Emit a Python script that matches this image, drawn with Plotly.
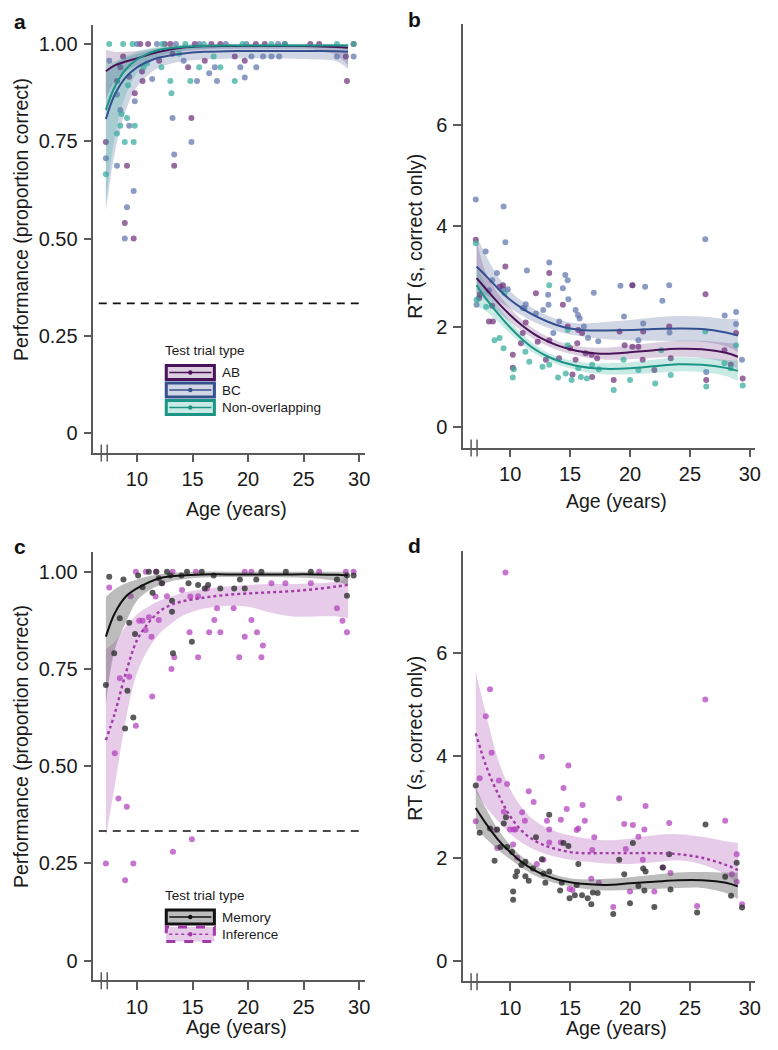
import plotly.graph_objects as go

W, H = 778, 1050

# ---------------- Panel a : performance by trial type ----------------
a_ab_age = [7.2, 8.2, 8.5, 8.75, 8.9, 9.1, 9.3, 9.7, 9.8, 10.3, 10.45, 10.5, 11.0, 12.0, 12.5, 13.0, 13.2, 13.35,
            14.6, 14.9, 15.2, 16.1, 16.7, 17.5, 18.8, 19.7, 20.7, 21.5, 23.3, 25.6, 26.4, 28.8, 28.9, 29.5]
a_ab_val = [0.748, 0.905, 0.94, 0.968, 0.54, 0.687, 0.916, 0.50, 0.873, 1.0, 0.929, 0.905, 1.0, 0.957, 1.0, 1.0, 0.975, 0.687,
            0.94, 0.81, 1.0, 0.957, 1.0, 1.0, 0.968, 0.957, 1.0, 1.0, 1.0, 1.0, 1.0, 0.968, 0.905, 1.0]
a_bc_age = [7.2, 7.5, 8.2, 8.2, 8.5, 8.9, 9.1, 9.3, 9.7, 9.8, 10.0, 11.37, 11.8, 13.2, 13.35, 13.5, 14.2, 14.9, 15.4,
            15.6, 16.5, 17.0, 17.2, 18.0, 19.3, 19.7, 19.85, 20.3, 20.74, 21.35, 22.1, 22.7, 22.8, 28.0, 29.5]
a_bc_val = [0.706, 0.957, 0.87, 0.687, 0.83, 0.50, 0.58, 0.79, 0.622, 0.853, 1.0, 0.91, 1.0, 0.81, 0.716, 1.0, 0.957, 0.748, 0.905,
            1.0, 0.925, 0.94, 0.905, 1.0, 0.94, 0.914, 1.0, 0.968, 0.94, 0.968, 0.968, 1.0, 0.968, 0.968, 0.968]
a_no_age = [7.2, 7.5, 8.2, 8.5, 8.6, 8.75, 8.9, 9.1, 9.2, 9.6, 9.7, 9.8, 10.6, 10.9, 12.2, 12.3, 13.0, 13.1, 13.8, 14.35,
            14.8, 15.6, 16.0, 16.9, 17.5, 18.8, 19.5, 22.1, 23.3, 28.0, 29.5]
a_no_val = [0.665, 1.0, 0.77, 0.79, 0.82, 1.0, 0.748, 0.81, 0.894, 1.0, 0.748, 0.79, 0.94, 0.95, 0.94, 1.0, 0.905, 0.873, 0.975, 1.0,
            0.905, 0.94, 1.0, 0.968, 0.94, 0.905, 1.0, 1.0, 1.0, 1.0, 1.0]
a_fit_age = [7.2, 8, 9, 10, 11, 12, 14, 16, 18, 20, 22, 24, 26, 28, 29]
a_ab_fit = [0.93, 0.945, 0.955, 0.963, 0.972, 0.98, 0.99, 0.994, 0.995, 0.995, 0.995, 0.995, 0.994, 0.992, 0.99]
a_ab_lo = [0.86, 0.905, 0.93, 0.945, 0.958, 0.968, 0.98, 0.985, 0.987, 0.987, 0.987, 0.987, 0.985, 0.97, 0.945]
a_ab_hi = [0.985, 0.98, 0.98, 0.982, 0.986, 0.99, 0.997, 1.0, 1.0, 1.0, 1.0, 1.0, 1.0, 1.0, 1.0]
a_bc_fit = [0.807, 0.87, 0.915, 0.94, 0.955, 0.965, 0.975, 0.98, 0.981, 0.982, 0.982, 0.982, 0.982, 0.981, 0.98]
a_bc_lo = [0.57, 0.72, 0.83, 0.89, 0.92, 0.94, 0.955, 0.96, 0.962, 0.963, 0.963, 0.962, 0.96, 0.955, 0.935]
a_bc_hi = [0.93, 0.95, 0.965, 0.975, 0.982, 0.987, 0.99, 0.995, 0.997, 0.998, 0.998, 0.998, 0.997, 0.997, 0.997]
a_no_fit = [0.83, 0.89, 0.935, 0.96, 0.975, 0.985, 0.992, 0.995, 0.996, 0.996, 0.996, 0.996, 0.996, 0.996, 0.996]
a_no_lo = [0.59, 0.76, 0.87, 0.925, 0.952, 0.968, 0.982, 0.987, 0.989, 0.99, 0.99, 0.99, 0.99, 0.988, 0.985]
a_no_hi = [0.95, 0.955, 0.97, 0.98, 0.988, 0.993, 0.998, 1.0, 1.0, 1.0, 1.0, 1.0, 1.0, 1.0, 1.0]

# ---------------- Panel b : RT by trial type ----------------
b_bc_age = [7.13, 7.2, 7.96, 8.23, 8.5, 8.9, 9.45, 9.6, 9.4, 9.8, 11.05, 11.3, 11.4, 11.2, 12.15, 12.76, 13.17, 13.2, 13.26,
            13.6, 14.1, 14.4, 14.6, 14.8, 14.86, 15.46, 15.66, 15.8, 16.15, 16.5, 16.98, 17.35, 19.2, 19.5, 20.2, 20.7,
            21.1, 21.26, 22.7, 23.27, 23.3, 26.28, 26.36, 27.9, 28.85, 28.85, 29.34]
b_bc_val = [4.52, 2.43, 3.49, 2.72, 2.92, 3.06, 4.38, 3.67, 2.74, 2.74, 2.37, 2.44, 3.11, 2.36, 2.26, 2.33, 2.63, 2.43, 3.27,
            1.87, 2.10, 2.76, 3.02, 2.92, 2.54, 2.33, 2.23, 2.16, 2.0, 1.77, 2.67, 1.71, 2.81, 2.2, 2.82, 1.73,
            2.06, 2.79, 2.51, 2.82, 1.88, 3.73, 1.10, 2.22, 2.29, 2.05, 1.34]
b_ab_age = [7.13, 7.4, 7.46, 8.23, 8.5, 8.56, 9.12, 9.4, 9.6, 10.22, 10.22, 10.9, 11.05, 11.3, 12.15, 12.3, 12.98, 13.26,
            13.26, 14.08, 14.4, 14.8, 15.0, 15.2, 15.46, 15.6, 15.68, 16.0, 16.3, 16.8, 16.84, 17.26, 18.64, 19.13, 19.55,
            20.2, 20.2, 20.7, 21.06, 21.1, 22.03, 23.27, 23.4, 26.3, 26.36, 27.88, 28.4, 28.85, 29.4]
b_ab_val = [3.72, 2.56, 2.63, 2.10, 2.41, 2.10, 2.79, 2.82, 3.19, 1.44, 1.18, 1.67, 1.87, 2.08, 2.66, 1.70, 1.34, 3.06,
            1.73, 1.37, 2.43, 2.0, 1.57, 1.05, 1.34, 1.67, 1.93, 1.87, 1.47, 1.44, 1.0, 1.37, 0.94, 1.9, 1.63,
            2.82, 1.6, 1.6, 1.34, 1.9, 1.14, 2.0, 1.37, 2.64, 0.94, 1.53, 1.24, 1.87, 0.97]
b_no_age = [7.13, 7.2, 8.0, 8.7, 9.12, 9.45, 9.53, 10.22, 10.3, 11.27, 11.6, 12.7, 13.26, 13.26, 14.0, 14.64, 14.8, 14.8,
            15.13, 15.68, 15.9, 16.4, 16.84, 17.4, 18.64, 19.46, 20.0, 20.7, 22.1, 22.6, 23.4, 26.28, 26.36, 27.88,
            28.4, 28.85, 29.4]
b_no_val = [3.65, 2.53, 2.39, 1.73, 1.77, 1.57, 2.66, 0.99, 1.15, 1.5, 1.30, 1.2, 2.82, 1.24, 0.99, 1.07, 1.63, 1.93,
            0.94, 1.17, 1.0, 0.97, 1.24, 1.15, 0.74, 1.34, 0.94, 1.14, 0.87, 1.53, 1.04, 1.9, 0.81, 1.27,
            1.17, 1.63, 0.83]
b_fit_age = [7.2, 8, 9, 10, 11, 12, 13, 14, 15, 16, 17, 18, 20, 22, 24, 26, 28, 29]
b_bc_fit = [3.19, 3.0, 2.75, 2.53, 2.36, 2.22, 2.11, 2.02, 1.96, 1.93, 1.92, 1.92, 1.93, 1.95, 1.96, 1.95, 1.88, 1.82]
b_bc_lo = [2.65, 2.62, 2.50, 2.36, 2.22, 2.09, 1.99, 1.90, 1.84, 1.80, 1.77, 1.75, 1.73, 1.72, 1.71, 1.70, 1.61, 1.49]
b_bc_hi = [3.80, 3.40, 2.99, 2.70, 2.50, 2.35, 2.23, 2.14, 2.08, 2.06, 2.07, 2.09, 2.13, 2.18, 2.21, 2.20, 2.15, 2.15]
b_ab_fit = [2.96, 2.74, 2.47, 2.23, 2.02, 1.85, 1.72, 1.62, 1.55, 1.50, 1.47, 1.46, 1.49, 1.53, 1.56, 1.55, 1.48, 1.40]
b_ab_lo = [2.66, 2.50, 2.29, 2.09, 1.91, 1.75, 1.63, 1.53, 1.46, 1.40, 1.36, 1.34, 1.35, 1.38, 1.40, 1.38, 1.28, 1.15]
b_ab_hi = [3.70, 3.05, 2.65, 2.37, 2.13, 1.95, 1.81, 1.71, 1.64, 1.60, 1.58, 1.58, 1.63, 1.68, 1.72, 1.72, 1.68, 1.65]
b_no_fit = [2.82, 2.55, 2.25, 1.98, 1.75, 1.56, 1.42, 1.32, 1.25, 1.20, 1.17, 1.16, 1.17, 1.21, 1.25, 1.24, 1.18, 1.12]
b_no_lo = [2.40, 2.30, 2.09, 1.86, 1.65, 1.47, 1.34, 1.24, 1.17, 1.11, 1.07, 1.05, 1.05, 1.08, 1.11, 1.10, 1.02, 0.92]
b_no_hi = [3.20, 2.80, 2.41, 2.10, 1.85, 1.65, 1.50, 1.40, 1.33, 1.29, 1.27, 1.27, 1.29, 1.34, 1.39, 1.38, 1.34, 1.32]

# ---------------- Panel c : performance memory vs inference ----------------
c_mem_age = [7.2, 7.5, 7.95, 8.45, 8.78, 8.93, 9.14, 9.3, 9.67, 9.82, 10.1, 10.5, 11.07, 11.4, 11.75, 11.96, 12.26, 12.7,
             13.0, 13.15, 13.15, 13.24, 14.0, 14.5, 14.64, 14.94, 15.5, 15.83, 16.1, 16.4, 16.9, 17.5, 18.75, 19.26,
             19.7, 20.74, 21.2, 23.4, 25.65, 28.0, 28.9, 28.9, 29.5]
c_mem_val = [0.709, 0.987, 0.79, 0.88, 0.98, 0.597, 0.694, 0.869, 0.625, 0.84, 0.99, 0.96, 1.0, 0.946, 1.0, 0.983, 0.97, 1.0,
             0.99, 0.925, 0.897, 0.79, 0.99, 1.0, 0.97, 0.82, 0.966, 1.0, 0.957, 0.966, 0.99, 0.957, 0.957, 0.98,
             0.957, 0.98, 1.0, 1.0, 1.0, 0.98, 0.938, 0.99, 0.99]
c_inf_age = [7.2, 7.5, 8.0, 8.33, 8.45, 8.93, 9.08, 9.3, 9.43, 9.67, 9.9, 9.9, 10.2, 10.5, 10.77, 10.8, 11.07, 11.3, 11.37,
             11.67, 11.7, 11.96, 12.2, 12.7, 13.1, 13.2, 13.24, 13.36, 14.05, 14.73, 14.8, 14.94, 15.3, 15.5, 15.5,
             16.3, 16.5, 16.96, 17.2, 17.5, 18.7, 19.2, 19.7, 19.7, 20.3, 20.3, 20.8, 21.2, 21.34, 22.1, 23.36,
             25.65, 26.4, 28.0, 28.5, 28.8, 28.9, 29.5]
c_inf_val = [0.25, 0.959, 0.533, 0.417, 0.726, 0.207, 0.396, 0.73, 0.937, 0.25, 0.604, 1.0, 0.874, 0.874, 0.85, 1.0, 0.883, 0.833, 0.679,
             0.936, 1.0, 0.876, 0.97, 0.937, 0.75, 1.0, 0.28, 0.78, 0.953, 0.844, 0.936, 0.312, 1.0, 0.78, 0.937,
             0.957, 0.844, 0.876, 0.906, 0.844, 0.906, 0.78, 0.833, 1.0, 0.876, 1.0, 0.844, 0.78, 0.81, 0.97, 0.97,
             0.97, 1.0, 0.906, 0.874, 1.0, 0.844, 1.0]
c_fit_age = [7.2, 8, 9, 10, 11, 12, 13, 14, 16, 18, 20, 22, 24, 26, 28, 29]
c_mem_fit = [0.833, 0.893, 0.936, 0.957, 0.972, 0.983, 0.988, 0.99, 0.993, 0.993, 0.993, 0.993, 0.993, 0.993, 0.992, 0.99]
c_mem_lo = [0.66, 0.80, 0.87, 0.925, 0.95, 0.965, 0.975, 0.98, 0.985, 0.986, 0.986, 0.986, 0.985, 0.983, 0.975, 0.965]
c_mem_hi = [0.935, 0.955, 0.97, 0.98, 0.988, 0.993, 0.997, 0.998, 1.0, 1.0, 1.0, 1.0, 1.0, 1.0, 1.0, 1.0]
c_inf_fit = [0.567, 0.636, 0.74, 0.824, 0.867, 0.897, 0.914, 0.923, 0.933, 0.94, 0.944, 0.947, 0.95, 0.955, 0.962, 0.966]
c_inf_lo = [0.32, 0.45, 0.62, 0.74, 0.80, 0.84, 0.865, 0.885, 0.905, 0.912, 0.91, 0.895, 0.885, 0.885, 0.885, 0.88]
c_inf_hi = [0.80, 0.82, 0.86, 0.89, 0.91, 0.925, 0.935, 0.945, 0.955, 0.962, 0.966, 0.968, 0.968, 0.97, 0.975, 0.985]

# ---------------- Panel d : RT memory vs inference ----------------
d_mem_age = [7.13, 7.46, 8.32, 8.7, 8.92, 9.2, 9.47, 9.65, 9.75, 10.16, 10.25, 10.25, 10.45, 10.58, 10.94, 11.27, 11.27,
             11.55, 11.9, 12.15, 12.65, 12.78, 12.94, 13.26, 13.26, 14.17, 14.45, 14.86, 14.31, 14.96, 15.4, 15.55,
             15.69, 16.0, 16.47, 16.77, 16.9, 17.3, 18.6, 19.1, 19.52, 20.0, 20.24, 20.7, 21.1, 21.2, 21.3, 22.03,
             22.72, 23.27, 23.38, 25.6, 26.3, 27.94, 28.43, 28.9, 29.35]
d_mem_val = [3.42, 2.50, 2.58, 1.95, 2.56, 2.22, 2.68, 2.80, 2.22, 2.12, 1.35, 1.19, 1.65, 1.74, 1.87, 1.93, 1.65,
             1.56, 1.80, 2.41, 1.98, 1.70, 1.52, 2.85, 1.74, 1.37, 2.30, 2.24, 1.52, 1.22, 1.28, 1.48,
             1.89, 1.28, 1.22, 1.10, 1.33, 1.32, 0.91, 1.97, 1.69, 1.12, 2.30, 1.46, 1.80, 1.37, 1.74, 1.05,
             1.82, 2.08, 1.39, 0.94, 2.66, 1.64, 1.27, 1.91, 1.04]
d_inf_age = [7.13, 7.46, 7.97, 8.32, 8.45, 8.78, 8.92, 9.06, 9.47, 9.61, 9.75, 9.99, 10.25, 10.3, 10.45, 10.58, 11.0,
             11.23, 11.55, 11.96, 12.23, 12.65, 12.78, 13.07, 13.26, 13.26, 14.23, 14.23, 14.45, 14.72, 14.86, 14.96,
             15.2, 15.55, 15.69, 16.04, 16.23, 16.77, 16.85, 17.02, 17.4, 18.6, 19.1, 19.52, 19.65, 20.0, 20.24,
             20.7, 21.07, 21.2, 21.3, 22.03, 22.77, 23.27, 23.38, 25.6, 26.28, 27.94, 28.5, 28.9, 28.9, 29.35]
d_inf_val = [2.72, 3.56, 4.77, 5.30, 4.06, 2.55, 2.20, 3.52, 2.91, 7.58, 3.45, 2.56, 2.27, 2.56, 2.56, 2.01, 2.90,
             2.73, 3.31, 3.10, 1.89, 3.98, 1.97, 2.73, 2.56, 2.31, 2.75, 2.31, 3.37, 2.96, 3.81, 1.40,
             1.38, 2.55, 2.58, 3.04, 2.73, 1.60, 2.16, 2.41, 1.52, 1.05, 3.17, 2.67, 2.18, 1.35, 2.65,
             2.42, 1.97, 2.56, 3.02, 1.35, 1.82, 2.69, 1.71, 1.07, 5.10, 2.73, 1.69, 2.08, 1.54, 1.10]
d_fit_age = [7.13, 8, 9, 10, 11, 12, 13, 14, 15, 16, 18, 20, 22, 24, 26, 28, 29]
d_mem_fit = [2.98, 2.67, 2.36, 2.12, 1.92, 1.77, 1.66, 1.58, 1.53, 1.50, 1.48, 1.51, 1.54, 1.57, 1.57, 1.52, 1.45]
d_mem_lo = [2.58, 2.38, 2.16, 1.98, 1.81, 1.67, 1.57, 1.50, 1.45, 1.41, 1.37, 1.38, 1.40, 1.42, 1.42, 1.32, 1.20]
d_mem_hi = [3.38, 2.96, 2.56, 2.26, 2.03, 1.87, 1.75, 1.66, 1.61, 1.59, 1.60, 1.63, 1.68, 1.72, 1.73, 1.72, 1.72]
d_inf_fit = [4.44, 3.80, 3.25, 2.82, 2.53, 2.35, 2.24, 2.17, 2.12, 2.10, 2.10, 2.10, 2.10, 2.08, 2.01, 1.87, 1.77]
d_inf_lo = [3.30, 3.00, 2.72, 2.48, 2.30, 2.17, 2.08, 2.02, 1.97, 1.94, 1.90, 1.89, 1.92, 1.96, 1.88, 1.68, 1.48]
d_inf_hi = [5.64, 4.80, 3.92, 3.35, 2.98, 2.74, 2.60, 2.51, 2.45, 2.40, 2.35, 2.38, 2.45, 2.47, 2.42, 2.33, 2.30]

# ---------------- ticks & labels ----------------
x_ticks = [10, 15, 20, 25, 30]
perf_ticks = [0, 0.25, 0.5, 0.75, 1.0]
perf_ticktext = ["0", "0.25", "0.50", "0.75", "1.00"]
rt_ticks = [0, 2, 4, 6]
chance_level = 1 / 3
legend_ab = ["AB", "BC", "Non-overlapping"]
legend_mi = ["Memory", "Inference"]

# ---------------- styles ----------------
FONT = "Liberation Sans, Arial, Helvetica, sans-serif"
AX = "#5a5a5a"
C_AB = dict(pt="rgba(112,48,122,0.72)", ln="#4a1258", band="rgba(120,70,135,0.26)")
C_BC = dict(pt="rgba(96,116,172,0.72)", ln="#34508f", band="rgba(70,92,150,0.25)")
C_NO = dict(pt="rgba(52,172,156,0.72)", ln="#1c9486", band="rgba(40,170,150,0.25)")
C_ME = dict(pt="rgba(45,45,45,0.78)", ln="#111111", band="rgba(95,95,95,0.42)")
C_IN = dict(pt="rgba(178,62,188,0.72)", ln="#a23aa8", band="rgba(188,115,198,0.36)")

OFF = 8  # page body margin: the figure is drawn 8 px in from the window edge


def pxx(p):
    return (p - OFF) / W


def pxy(p):
    return 1 - (p - OFF) / H


fig = go.Figure()


def add_series(xa, ya, fit_x, lo, hi, fit, px_, py_, col, dash="solid"):
    fig.add_trace(go.Scatter(x=fit_x, y=lo, mode="lines", line=dict(width=0, shape="spline"),
                             xaxis=xa, yaxis=ya, hoverinfo="skip"))
    fig.add_trace(go.Scatter(x=fit_x, y=hi, mode="lines", line=dict(width=0, shape="spline"),
                             fill="tonexty", fillcolor=col["band"], xaxis=xa, yaxis=ya, hoverinfo="skip"))
    fig.add_trace(go.Scatter(x=px_, y=py_, mode="markers",
                             marker=dict(size=6, color=col["pt"], line=dict(width=0)),
                             xaxis=xa, yaxis=ya))
    return (fit_x, fit, col, dash, xa, ya)


lines = []
lines.append(add_series("x", "y", a_fit_age, a_ab_lo, a_ab_hi, a_ab_fit, a_ab_age, a_ab_val, C_AB))
lines.append(add_series("x", "y", a_fit_age, a_bc_lo, a_bc_hi, a_bc_fit, a_bc_age, a_bc_val, C_BC))
lines.append(add_series("x", "y", a_fit_age, a_no_lo, a_no_hi, a_no_fit, a_no_age, a_no_val, C_NO))
lines.append(add_series("x2", "y2", b_fit_age, b_bc_lo, b_bc_hi, b_bc_fit, b_bc_age, b_bc_val, C_BC))
lines.append(add_series("x2", "y2", b_fit_age, b_ab_lo, b_ab_hi, b_ab_fit, b_ab_age, b_ab_val, C_AB))
lines.append(add_series("x2", "y2", b_fit_age, b_no_lo, b_no_hi, b_no_fit, b_no_age, b_no_val, C_NO))
lines.append(add_series("x3", "y3", c_fit_age, c_inf_lo, c_inf_hi, c_inf_fit, c_inf_age, c_inf_val, C_IN, "dot"))
lines.append(add_series("x3", "y3", c_fit_age, c_mem_lo, c_mem_hi, c_mem_fit, c_mem_age, c_mem_val, C_ME))
lines.append(add_series("x4", "y4", d_fit_age, d_inf_lo, d_inf_hi, d_inf_fit, d_inf_age, d_inf_val, C_IN, "dot"))
lines.append(add_series("x4", "y4", d_fit_age, d_mem_lo, d_mem_hi, d_mem_fit, d_mem_age, d_mem_val, C_ME))

for fx, fy, col, dash, xa, ya in lines:
    fig.add_trace(go.Scatter(x=fx, y=fy, mode="lines",
                             line=dict(color=col["ln"], width=2 if dash == "solid" else 2.4,
                                       dash=dash, shape="spline"),
                             xaxis=xa, yaxis=ya))

# ---------------- axes ----------------
panels = {
    "1": ((94, 367.5), (24.5, 452.5), [6.07, 30.5], [-0.05, 1.05], True),
    "2": ((466.7, 760.7), (24.1, 447.5), [6.08, 30.42], [-0.4, 8], False),
    "3": ((94, 367.5), (552.2, 980.2), [6.07, 30.5], [-0.05, 1.05], True),
    "4": ((466.7, 760.7), (550.9, 981.2), [6.08, 30.42], [-0.4, 8], False),
}
layout_axes = {}
for k, (xd, yd, xr, yr, perf) in panels.items():
    sfx = "" if k == "1" else k
    common = dict(showgrid=False, zeroline=False, showline=True, linecolor=AX, linewidth=1.5,
                  ticks="outside", ticklen=8, tickwidth=1.5, tickcolor=AX,
                  tickfont=dict(family=FONT, size=20, color="#1a1a1a"))
    layout_axes["xaxis" + sfx] = dict(common, domain=[pxx(xd[0]), pxx(xd[1])], range=xr,
                                      tickvals=x_ticks, anchor="y" + sfx)
    yax = dict(common, domain=[pxy(yd[1]), pxy(yd[0])], range=yr, anchor="x" + sfx, ticklabelstandoff=2)
    if perf:
        yax.update(tickvals=perf_ticks, ticktext=perf_ticktext)
    else:
        yax.update(tickvals=rt_ticks)
    layout_axes["yaxis" + sfx] = yax

shapes = []
annotations = []

# axis breaks and chance lines
for k, (xd, yd, xr, yr, perf) in panels.items():
    sfx = "" if k == "1" else k
    scale = (xd[1] - xd[0]) / (xr[1] - xr[0])
    for off in (8.0, 14.0):
        xb = xr[0] + off / scale
        shapes.append(dict(type="line", xref="x" + sfx, yref="paper", x0=xb, x1=xb,
                           y0=pxy(yd[1] - 8), y1=pxy(yd[1] + 9), line=dict(color=AX, width=1.5)))
    if perf:
        shapes.append(dict(type="line", xref="x" + sfx + " domain", yref="y" + sfx,
                           x0=0.02, x1=1.0, y0=chance_level, y1=chance_level,
                           line=dict(color="#111111", width=1.6, dash="8px,6px")))

# panel letters
for letter, (lx, ly) in {"a": (20, 21), "b": (418, 19.5), "c": (20, 546), "d": (418, 545)}.items():
    annotations.append(dict(text="<b>%s</b>" % letter, x=pxx(lx), y=pxy(ly), xref="paper", yref="paper",
                            showarrow=False, xanchor="center", yanchor="middle",
                            font=dict(family=FONT, size=21, color="#111")))

# axis titles
for (tx, ty, txt, ang) in [
    (238, 509, "Age (years)", 0), (621, 501, "Age (years)", 0),
    (238, 1027, "Age (years)", 0), (621, 1028, "Age (years)", 0),
    (21, 219, "Performance (proportion correct)", -90), (418, 236, "RT (s, correct only)", -90),
    (21, 746, "Performance (proportion correct)", -90), (418, 738, "RT (s, correct only)", -90),
]:
    annotations.append(dict(text=txt, x=pxx(tx), y=pxy(ty), xref="paper", yref="paper", showarrow=False,
                            textangle=ang, xanchor="center", yanchor="middle",
                            font=dict(family=FONT, size=19.5, color="#1a1a1a")))


def legend_title(x, y):
    annotations.append(dict(text="Test trial type", x=pxx(x), y=pxy(y), xref="paper", yref="paper",
                            showarrow=False, xanchor="left", yanchor="middle",
                            font=dict(family=FONT, size=13.5, color="#1a1a1a")))


def legend_item(top, bottom, label, col, dash="solid"):
    x0, x1 = 167.5, 216
    shapes.append(dict(type="rect", xref="paper", yref="paper", x0=pxx(x0), x1=pxx(x1),
                       y0=pxy(bottom), y1=pxy(top), fillcolor=col["band"],
                       line=dict(color=col["ln"], width=3, dash="dash" if dash != "solid" else "solid")))
    ym = (top + bottom) / 2
    shapes.append(dict(type="line", xref="paper", yref="paper", x0=pxx(x0 + 3), x1=pxx(x1 - 3),
                       y0=pxy(ym), y1=pxy(ym), line=dict(color=col["ln"], width=1.6, dash=dash)))
    shapes.append(dict(type="circle", xref="paper", yref="paper", x0=pxx(191.7 - 2.2), x1=pxx(191.7 + 2.2),
                       y0=pxy(ym + 2.2), y1=pxy(ym - 2.2), fillcolor=col["ln"], line=dict(width=0)))
    annotations.append(dict(text=label, x=pxx(222), y=pxy(ym), xref="paper", yref="paper", showarrow=False,
                            xanchor="left", yanchor="middle", font=dict(family=FONT, size=13.5, color="#1a1a1a")))


legend_title(164, 350)
legend_item(365.5, 379.5, legend_ab[0], C_AB)
legend_item(383, 397, legend_ab[1], C_BC)
legend_item(400.5, 414.5, legend_ab[2], C_NO)
legend_title(164, 895)
legend_item(910, 924, legend_mi[0], C_ME)
legend_item(927, 941.5, legend_mi[1], C_IN, "dot")

fig.update_layout(width=W, height=H, margin=dict(l=0, r=0, t=0, b=0), showlegend=False,
                  plot_bgcolor="white", paper_bgcolor="white", shapes=shapes, annotations=annotations,
                  font=dict(family=FONT), **layout_axes)

fig.write_html("out.html")
